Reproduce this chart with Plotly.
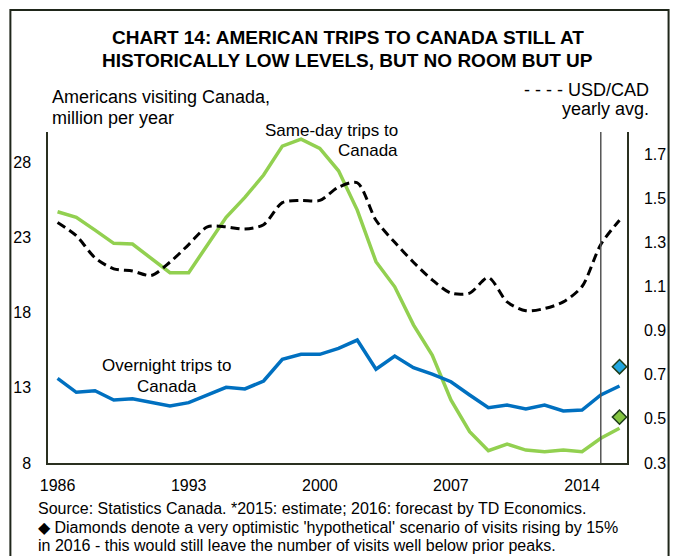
import plotly.graph_objects as go

# ---------------- data ----------------
years = list(range(1986, 2017))
same_day = [24.70, 24.33, 23.48, 22.60, 22.55, 21.62, 20.65, 20.65, 22.49, 24.33,
            25.65, 27.14, 29.06, 29.53, 28.91, 27.42, 24.81, 21.38, 19.71, 17.18,
            15.18, 12.19, 10.08, 8.82, 9.26, 8.86, 8.75, 8.86, 8.75, 9.64, 10.31]
overnight = [13.63, 12.70, 12.80, 12.19, 12.27, 12.01, 11.79, 12.01, 12.52, 13.03,
             12.92, 13.45, 14.89, 15.22, 15.22, 15.62, 16.17, 14.23, 15.11, 14.33,
             13.91, 13.40, 12.52, 11.67, 11.85, 11.59, 11.85, 11.46, 11.52, 12.52, 13.12]
usd_cad = [1.39, 1.33, 1.23, 1.18, 1.17, 1.15, 1.21, 1.29, 1.37, 1.37,
           1.36, 1.38, 1.48, 1.49, 1.49, 1.55, 1.57, 1.40, 1.30, 1.21,
           1.13, 1.07, 1.07, 1.14, 1.03, 0.99, 1.00, 1.03, 1.10, 1.29, 1.40]
diamond_year = [2016, 2016]
diamond_vals = [14.40, 11.05]   # overnight, same-day hypothetical (+15%)
forecast_start = 2015

x_ticks = [1986, 1993, 2000, 2007, 2014]
y_left_ticks = [8, 13, 18, 23, 28]
y_right_ticks = [0.3, 0.5, 0.7, 0.9, 1.1, 1.3, 1.5, 1.7]
y_right_text = ["0.3", "0.5", "0.7", "0.9", "1.1", "1.3", "1.5", "1.7"]

# ---------------- layout helpers ----------------
W, H = 678, 556
L, R, T, B = 48, 45, 132, 93
PW, PH = W - L - R, H - T - B
def px(x):
    return (x - L) / PW
def py(y):
    return (H - B - y) / PH

FONT = "Liberation Sans, Arial, sans-serif"
AX = "#2a3020"

fig = go.Figure()
fig.add_trace(go.Scatter(x=years, y=usd_cad, yaxis="y2", mode="lines",
                         line=dict(color="black", width=3, dash="9px,5px",
                                   shape="spline", smoothing=0.8),
                         showlegend=False, hoverinfo="skip"))
fig.add_trace(go.Scatter(x=years, y=same_day, mode="lines",
                         line=dict(color="#92d050", width=3.5),
                         showlegend=False))
fig.add_trace(go.Scatter(x=years, y=overnight, mode="lines",
                         line=dict(color="#0070c0", width=3.5),
                         showlegend=False))
fig.add_trace(go.Scatter(x=diamond_year, y=diamond_vals, mode="markers",
                         marker=dict(symbol="diamond", size=11,
                                     color=["#22a6df", "#84c441"],
                                     line=dict(color="#1e3d1a", width=1.5)),
                         showlegend=False))

ann = []
def text(t, x, y, anchor="left", size=17, bold=False):
    ann.append(dict(text=("<b>%s</b>" % t) if bold else t, x=px(x), y=py(y),
                    xref="paper", yref="paper", xanchor=anchor, yanchor="middle",
                    showarrow=False, font=dict(family=FONT, size=size, color="black")))

text("CHART 14: AMERICAN TRIPS TO CANADA STILL AT", 351, 37, "center", 19, True)
text("HISTORICALLY LOW LEVELS, BUT NO ROOM BUT UP", 351, 60, "center", 19, True)
text("Americans visiting Canada,", 50, 97, "left", 18)
text("million per year", 50, 118, "left", 18)
text("- - - - USD/CAD", 657, 90, "right", 18)
text("yearly avg.", 657, 109, "right", 18)
text("Same-day trips to", 404, 130, "right", 17)
text("Canada", 404, 150, "right", 17)
text("Overnight trips to", 168, 365, "center", 17)
text("Canada", 168, 386, "center", 17)
text("Source: Statistics Canada. *2015: estimate; 2016: forecast by TD Economics.", 36, 508, "left", 16)
text("\u25c6 Diamonds denote a very optimistic 'hypothetical' scenario of visits rising by 15%", 36, 527, "left", 16)
text("in 2016 - this would still leave the number of visits well below prior peaks.", 36, 545, "left", 16)

shapes = [
    dict(type="rect", xref="paper", yref="paper", x0=px(10), x1=px(675),
         y0=py(562), y1=py(10), line=dict(color="#1f261a", width=2), layer="above"),
    dict(type="line", xref="x", yref="paper", x0=forecast_start, x1=forecast_start,
         y0=0, y1=1, line=dict(color="#555555", width=1.5)),
]

fig.update_layout(
    width=W, height=H, margin=dict(l=L, r=R, t=T, b=B, pad=0),
    paper_bgcolor="white", plot_bgcolor="white",
    font=dict(family=FONT, size=16, color="black"),
    annotations=ann, shapes=shapes,
    xaxis=dict(range=[1985.49, 2016.40], tickvals=x_ticks, showgrid=False,
               zeroline=False, showline=True, linecolor=AX, linewidth=1.5,
               ticks="", tickfont=dict(size=16), ticklabelstandoff=7),
    yaxis=dict(range=[8, 30], tickvals=y_left_ticks, showgrid=False,
               zeroline=False, showline=True, linecolor=AX, linewidth=1.5,
               ticks="", tickfont=dict(size=16), ticklabelstandoff=12),
    yaxis2=dict(range=[0.3, 1.8], tickvals=y_right_ticks, ticktext=y_right_text,
                overlaying="y", side="right", showgrid=False, zeroline=False,
                showline=True, linecolor=AX, linewidth=1.5, ticks="",
                tickfont=dict(size=16), ticklabelstandoff=12),
)

fig.write_html("out.html", config={"displayModeBar": False},
               post_script="document.body.style.margin='0';")
